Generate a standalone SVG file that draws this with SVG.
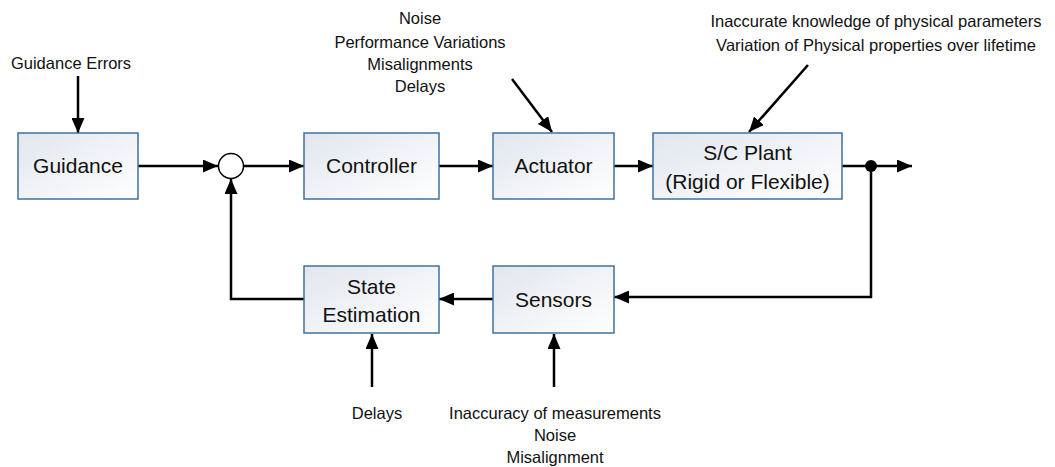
<svg xmlns="http://www.w3.org/2000/svg" width="1055" height="467" viewBox="0 0 1055 467">
<defs>
<linearGradient id="boxfill" x1="0" y1="0" x2="1" y2="1">
<stop offset="0" stop-color="#e1e6ee"/>
<stop offset="1" stop-color="#ffffff"/>
</linearGradient>
<marker id="arr" viewBox="0 0 15 13" refX="15" refY="6.5" markerWidth="15" markerHeight="13" markerUnits="userSpaceOnUse" orient="auto">
<path d="M0,0 L15,6.5 L0,13 z" fill="#000"/>
</marker>
</defs>
<style>
.box{fill:url(#boxfill);stroke:#41719c;stroke-width:1.5}
.bt{font-family:"Liberation Sans",Arial,sans-serif;font-size:21px;fill:#111;text-anchor:middle}
.lt{font-family:"Liberation Sans",Arial,sans-serif;font-size:16.5px;fill:#111;text-anchor:middle}
.c{fill:none;stroke:#000;stroke-width:2.5}
.a{marker-end:url(#arr)}
</style>
<rect width="1055" height="467" fill="#fff"/>
<g id="connectors">
<line class="c a" x1="78" y1="76" x2="78" y2="133"/>
<line class="c a" x1="138" y1="166" x2="218" y2="166"/>
<line class="c a" x1="244" y1="166" x2="304" y2="166"/>
<line class="c a" x1="439" y1="166" x2="493" y2="166"/>
<line class="c a" x1="614" y1="166" x2="653" y2="166"/>
<line class="c a" x1="842" y1="166" x2="912" y2="166"/>
<line class="c a" x1="512" y1="79" x2="552" y2="132"/>
<line class="c a" x1="808" y1="65" x2="749" y2="132"/>
<polyline class="c a" points="871,166 871,297 614,297"/>
<line class="c a" x1="493" y1="299" x2="439" y2="299"/>
<polyline class="c a" points="304,299 231,299 231,179"/>
<line class="c a" x1="372" y1="387" x2="372" y2="334"/>
<line class="c a" x1="554" y1="387" x2="554" y2="334"/>
<circle cx="871" cy="166" r="6" fill="#000"/>
</g>
<g id="sum">
<circle cx="231" cy="166" r="12.5" fill="#fff" stroke="#000" stroke-width="1.5"/>
</g>
<g id="guidance">
<rect class="box" x="18" y="133" width="120" height="66"/>
<text class="bt" x="78" y="173">Guidance</text>
</g>
<g id="controller">
<rect class="box" x="304" y="133" width="135" height="66"/>
<text class="bt" x="371.5" y="173">Controller</text>
</g>
<g id="actuator">
<rect class="box" x="493" y="133" width="121" height="66"/>
<text class="bt" x="553.5" y="173">Actuator</text>
</g>
<g id="plant">
<rect class="box" x="653" y="133" width="189" height="66"/>
<text class="bt" x="747.5" y="160">S/C Plant</text>
<text class="bt" x="747.5" y="189">(Rigid or Flexible)</text>
</g>
<g id="sensors">
<rect class="box" x="493" y="266" width="121" height="67"/>
<text class="bt" x="553.5" y="307">Sensors</text>
</g>
<g id="stateest">
<rect class="box" x="304" y="266" width="135" height="67"/>
<text class="bt" x="371.5" y="294">State</text>
<text class="bt" x="371.5" y="322">Estimation</text>
</g>
<g id="labels">
<text class="lt" x="71" y="69">Guidance Errors</text>
<text class="lt" x="420" y="24">Noise</text>
<text class="lt" x="420" y="48">Performance Variations</text>
<text class="lt" x="420" y="70">Misalignments</text>
<text class="lt" x="420" y="92">Delays</text>
<text class="lt" x="876" y="27">Inaccurate knowledge of physical parameters</text>
<text class="lt" x="876" y="51">Variation of Physical properties over lifetime</text>
<text class="lt" x="377" y="419">Delays</text>
<text class="lt" x="555" y="419">Inaccuracy of measurements</text>
<text class="lt" x="555" y="441">Noise</text>
<text class="lt" x="555" y="463">Misalignment</text>
</g>
</svg>
